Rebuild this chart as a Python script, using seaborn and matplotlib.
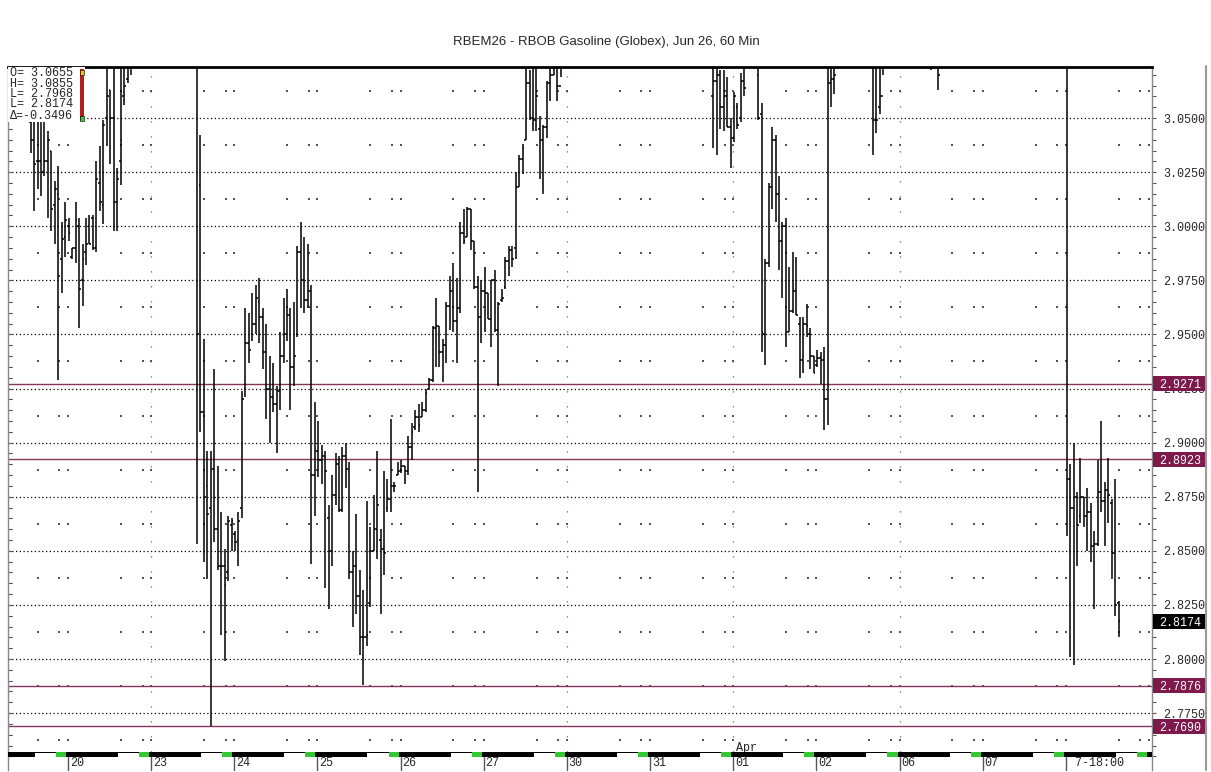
import matplotlib
matplotlib.use('Agg')
import matplotlib.pyplot as plt
from matplotlib.patches import Rectangle
from matplotlib.lines import Line2D
import numpy as np
import pandas as pd
import seaborn as sns

sns.set_style('white')
plt.rcParams['font.family'] = ['Liberation Sans', 'DejaVu Sans']
MONO = ['Liberation Mono', 'DejaVu Sans Mono']

# hourly slots, 24 per session; slot 0 = start of the "20" session
bar_slot = (list(range(-11, 19)) + list(range(37, 143)) + list(range(186, 196))
            + list(range(199, 222)) + list(range(232, 236)) + [249, 251]
            + list(range(288, 304)))

bar_open = [
    3.048, 3.040, 3.030, 3.030, 3.025, 3.030, 3.035, 3.010, 3.015, 2.985,
    2.995, 3.000, 2.986, 2.990, 3.000, 2.975, 2.988, 3.000, 3.004, 2.990,
    3.020, 3.010, 3.050, 3.063, 3.050, 3.011, 3.030, 3.060, 3.068, 3.075,
    # 23 - 27
    3.085, 3.019, 2.914, 2.880, 2.870, 2.888, 2.860, 2.843, 2.843, 2.840,
    2.862, 2.858, 2.855, 2.870, 2.925, 2.946, 2.950, 2.955, 2.965, 2.958,
    2.942, 2.925, 2.921, 2.918, 2.924, 2.940, 2.950, 2.959, 2.935, 2.950,
    2.988, 2.975, 2.966, 2.970, 2.885, 2.896, 2.892, 2.894, 2.865, 2.850,
    2.876, 2.890, 2.869, 2.894, 2.888, 2.840, 2.843, 2.829, 2.810, 2.810,
    2.826, 2.850, 2.860, 2.855, 2.851, 2.870, 2.874, 2.880, 2.885, 2.887,
    2.889, 2.887, 2.898, 2.907, 2.912, 2.912, 2.915, 2.925, 2.929, 2.953,
    2.954, 2.942, 2.945, 2.963, 2.970, 2.956, 2.962, 2.997, 2.995, 3.008,
    2.993, 2.972, 2.958, 2.970, 2.969, 2.957, 2.975, 2.952, 2.966, 2.972,
    2.984, 2.989, 2.990, 3.018, 3.031, 3.040, 3.066, 3.050, 3.049, 3.045,
    3.040, 3.046, 3.066, 3.070, 3.075, 3.065,
    # 31 - 02
    3.060, 3.067, 3.070, 3.055, 3.060, 3.046, 3.041, 3.055, 3.050, 3.067,
    3.070, 3.052, 2.950, 2.983, 3.018, 3.040, 3.015, 2.993, 3.000, 2.951,
    2.961, 2.970, 2.955, 2.938, 2.955, 2.950, 2.940, 2.936, 2.939, 2.938,
    2.920, 3.066, 3.068,
    3.075, 3.049, 3.055, 3.060, 3.080, 3.078,
    # 7-18:00
    3.075, 2.883, 2.870, 2.875, 2.866, 2.875, 2.866, 2.868, 2.852, 2.853,
    2.877, 2.873, 2.878, 2.872, 2.849, 2.826,
]
bar_high = [
    3.058, 3.055, 3.052, 3.050, 3.050, 3.044, 3.035, 3.021, 3.028, 3.002,
    3.011, 3.004, 2.990, 3.011, 3.004, 2.992, 3.004, 3.005, 3.005, 3.030,
    3.037, 3.049, 3.080, 3.063, 3.078, 3.027, 3.078, 3.080, 3.082, 3.085,
    3.092, 3.042, 2.948, 2.896, 2.896, 2.934, 2.889, 2.868, 2.851, 2.866,
    2.865, 2.859, 2.868, 2.924, 2.962, 2.960, 2.969, 2.973, 2.976, 2.962,
    2.955, 2.940, 2.937, 2.926, 2.951, 2.967, 2.971, 2.962, 2.965, 2.991,
    3.002, 2.995, 2.992, 2.973, 2.919, 2.910, 2.899, 2.896, 2.871, 2.885,
    2.895, 2.894, 2.898, 2.900, 2.891, 2.850, 2.867, 2.841, 2.832, 2.873,
    2.861, 2.876, 2.896, 2.860, 2.887, 2.883, 2.911, 2.882, 2.891, 2.892,
    2.889, 2.903, 2.909, 2.915, 2.918, 2.919, 2.925, 2.930, 2.954, 2.967,
    2.954, 2.948, 2.965, 2.977, 2.983, 2.976, 3.002, 3.008, 3.009, 3.008,
    2.993, 2.977, 2.975, 2.981, 2.969, 2.975, 2.980, 2.965, 2.971, 2.986,
    2.991, 2.991, 3.025, 3.033, 3.038, 3.073, 3.072, 3.076, 3.078, 3.051,
    3.047, 3.067, 3.073, 3.080, 3.080, 3.082,
    3.076, 3.078, 3.072, 3.072, 3.069, 3.050, 3.062, 3.057, 3.071, 3.076,
    3.080, 3.057, 2.985, 3.020, 3.046, 3.042, 3.023, 3.002, 3.004, 2.981,
    2.988, 2.986, 2.958, 2.958, 2.964, 2.953, 2.940, 2.943, 2.942, 2.944,
    3.085, 3.080, 3.080,
    3.080, 3.080, 3.080, 3.080, 3.085, 3.085,
    3.085, 2.890, 2.900, 2.877, 2.893, 2.875, 2.879, 2.872, 2.859, 2.892,
    2.910, 2.882, 2.893, 2.874, 2.883, 2.827,
]
bar_low = [
    3.034, 3.007, 3.017, 3.014, 3.023, 3.004, 2.998, 2.992, 2.929, 2.969,
    2.986, 2.993, 2.985, 2.983, 2.953, 2.963, 2.982, 2.992, 2.989, 2.988,
    3.007, 3.001, 3.037, 3.029, 2.998, 2.998, 3.019, 3.056, 3.066, 3.070,
    2.853, 2.905, 2.845, 2.837, 2.769, 2.854, 2.841, 2.811, 2.799, 2.836,
    2.850, 2.850, 2.843, 2.865, 2.921, 2.937, 2.947, 2.950, 2.946, 2.934,
    2.911, 2.900, 2.914, 2.895, 2.915, 2.937, 2.947, 2.915, 2.926, 2.949,
    2.962, 2.960, 2.962, 2.844, 2.866, 2.884, 2.881, 2.833, 2.823, 2.843,
    2.871, 2.868, 2.868, 2.879, 2.837, 2.815, 2.821, 2.802, 2.788, 2.806,
    2.824, 2.850, 2.846, 2.821, 2.839, 2.868, 2.868, 2.877, 2.885, 2.886,
    2.881, 2.885, 2.892, 2.906, 2.905, 2.912, 2.914, 2.925, 2.928, 2.935,
    2.935, 2.928, 2.937, 2.952, 2.951, 2.937, 2.960, 2.992, 2.995, 2.989,
    2.971, 2.877, 2.946, 2.951, 2.957, 2.944, 2.951, 2.926, 2.965, 2.971,
    2.977, 2.981, 2.985, 3.018, 3.024, 3.040, 3.049, 3.044, 3.044, 3.022,
    3.015, 3.041, 3.058, 3.070, 3.058, 3.069,
    3.036, 3.033, 3.045, 3.044, 3.046, 3.027, 3.039, 3.045, 3.048, 3.060,
    3.049, 2.942, 2.936, 2.981, 3.008, 3.002, 2.980, 2.967, 2.944, 2.951,
    2.960, 2.959, 2.930, 2.932, 2.949, 2.934, 2.932, 2.935, 2.927, 2.906,
    2.908, 3.055, 3.061,
    3.033, 3.043, 3.052, 3.070, 3.072, 3.063,
    2.857, 2.801, 2.797, 2.843, 2.863, 2.861, 2.850, 2.845, 2.823, 2.852,
    2.868, 2.852, 2.863, 2.837, 2.820, 2.810,
]
bar_close = [
    3.040, 3.029, 3.030, 3.025, 3.030, 3.040, 3.008, 3.017, 2.977, 2.994,
    3.003, 2.997, 2.990, 3.003, 2.971, 2.985, 2.992, 2.992, 2.990, 3.022,
    3.011, 3.047, 3.060, 3.050, 3.011, 3.022, 3.040, 3.065, 3.075, 3.078,
    2.950, 2.914, 2.875, 2.867, 2.888, 2.860, 2.843, 2.843, 2.834, 2.864,
    2.864, 2.854, 2.864, 2.920, 2.946, 2.943, 2.955, 2.967, 2.958, 2.942,
    2.925, 2.921, 2.918, 2.924, 2.940, 2.950, 2.959, 2.935, 2.940, 2.988,
    2.975, 2.966, 2.970, 2.885, 2.896, 2.892, 2.894, 2.887, 2.850, 2.876,
    2.890, 2.869, 2.894, 2.888, 2.840, 2.843, 2.829, 2.810, 2.810, 2.811,
    2.850, 2.860, 2.871, 2.851, 2.849, 2.874, 2.880, 2.880, 2.887, 2.889,
    2.887, 2.898, 2.905, 2.912, 2.908, 2.915, 2.923, 2.929, 2.953, 2.954,
    2.942, 2.945, 2.963, 2.970, 2.956, 2.962, 2.997, 2.993, 3.008, 2.993,
    2.972, 2.958, 2.970, 2.969, 2.957, 2.975, 2.952, 2.964, 2.967, 2.984,
    2.989, 2.985, 3.018, 3.031, 3.036, 3.066, 3.050, 3.049, 3.060, 3.040,
    3.046, 3.066, 3.070, 3.075, 3.065, 3.075,
    3.067, 3.070, 3.055, 3.060, 3.046, 3.041, 3.060, 3.047, 3.067, 3.064,
    3.050, 2.951, 2.983, 3.018, 3.040, 3.015, 2.993, 3.000, 2.951, 2.961,
    2.970, 2.959, 2.938, 2.955, 2.954, 2.940, 2.932, 2.939, 2.938, 2.920,
    3.066, 3.068, 3.070,
    3.049, 3.049, 3.060, 3.075, 3.078, 3.070,
    2.883, 2.870, 2.875, 2.862, 2.875, 2.866, 2.868, 2.852, 2.853, 2.877,
    2.873, 2.878, 2.876, 2.849, 2.825, 2.8174,
]

day_labels = ['20', '23', '24', '25', '26', '27', '30', '31', '01', '02', '06', '07', ' 7-18:00']
week_marks = [24, 144, 192, 240]
level_lines = [2.9271, 2.8923, 2.7876, 2.7690]
last_price = 2.8174
legend_lines = ['O= 3.0655', 'H= 3.0855', 'L= 2.7968', 'L= 2.8174', 'Δ=-0.3496']
title = 'RBEM26 - RBOB Gasoline (Globex), Jun 26, 60 Min'

df = pd.DataFrame({'slot': bar_slot, 'o': bar_open, 'h': bar_high,
                   'l': bar_low, 'c': bar_close})

W, H = 1211, 772
AW, AH = 1144, 703
fig = plt.figure(figsize=(W / 100, H / 100), dpi=100)
fig.patch.set_facecolor('white')
ax = fig.add_axes([8 / W, 2 / H, AW / W, AH / H])
x0, x1 = -17.32, 312.84
y0, y1 = 2.7487, 3.0736
px = (y1 - y0) / AH

# grid
major = np.round(np.arange(2.775, 3.0501, 0.025), 4)
minor = np.round(np.arange(2.755, 3.0701, 0.005), 4)
for v in major:
    ax.axhline(v, color='black', lw=0.9, ls=(0, (1, 2)), zorder=1)
for s in week_marks:
    ax.axvline(s, ymin=18 / AH, ymax=1, color='#666', lw=0.9, ls=(0, (1, 11)), zorder=1)
dots = pd.DataFrame([(24 * k + off, v) for k in range(0, 14) for off in (-8.75, -2.5, 0)
                     for v in np.arange(2.7625, 3.07, 0.025)], columns=['x', 'y'])
sns.scatterplot(data=dots, x='x', y='y', s=1.3, marker='s', color='#555',
                linewidth=0, legend=False, ax=ax, zorder=1)

# OHLC bars
bx = df.slot + 0.2
ax.vlines(bx, df.l, df.h, color='black', lw=1.1, zorder=3)
ax.hlines(df.o, bx - 0.5, bx, color='black', lw=1.1, zorder=3)
ax.hlines(df.c, bx, bx + 0.5, color='black', lw=1.1, zorder=3)

# level lines and right-side boxes
maroon = '#7d1a4b'
ty = ax.get_yaxis_transform()
for v in level_lines:
    ax.axhline(v, color='#86345c', lw=1, zorder=2)
for v, fc in [(v, maroon) for v in level_lines] + [(last_price, 'black')]:
    ax.add_patch(Rectangle((1 + 1 / AW, v - 7.5 * px), 52 / AW, 15 * px, transform=ty,
                           fc=fc, lw=0, clip_on=False, zorder=6))
    ax.text((1180 - 8) / AW, v, f'{v:.4f}', transform=ty, ha='center', va='center_baseline',
            color='white', fontsize=8.4, family=MONO, zorder=7, clip_on=False)

# session strip at the bottom
tx = ax.get_xaxis_transform()
sy, sh = 13 / AH, 5 / AH
ax.add_patch(Rectangle((x0, sy), x1 - x0, sh, transform=tx, fc='black', lw=0, zorder=4))
for k in range(-1, 13):
    ax.add_patch(Rectangle((24 * k + 14.4, sy), 6.1, sh - 1 / AH, transform=tx,
                           fc='white', lw=0, zorder=4))
    ax.add_patch(Rectangle((24 * k + 20.5, sy), 2.9, sh, transform=tx,
                           fc='#34c934', lw=0, zorder=4))

for k, lab in enumerate(day_labels):
    s = 24 * k
    ax.plot([s, s], [0, 13 / AH], transform=tx, color='#555', lw=1, clip_on=False)
    ax.text(s + 0.5, 7 / AH, lab, transform=tx, ha='left', va='center',
            fontsize=8.5, family=MONO)
ax.text(192.8, 22.5 / AH, 'Apr', transform=tx, ha='left', va='center',
        fontsize=8.5, family=MONO)

# axes, ticks
ax.set_xlim(x0, x1)
ax.set_ylim(y0, y1)
ax.set_xlabel('')
ax.set_ylabel('')
ax.set_xticks([])
ax.yaxis.tick_right()
ax.set_yticks(major)
ax.set_yticklabels([f'{v:.4f}' for v in major], family=MONO, fontsize=8.5)
ax.set_yticks(minor, minor=True)
ax.tick_params(axis='y', which='both', direction='out', length=3, width=0.8,
               color='#555', pad=5, right=True, left=False)
for v in minor:
    ax.plot([0, 4 / AW], [v, v], transform=ty, color='#555', lw=0.8)
for side in ['left', 'right']:
    ax.spines[side].set_color('#888')
    ax.spines[side].set_linewidth(1)
ax.spines['top'].set_color('black')
ax.spines['top'].set_linewidth(2)
ax.spines['bottom'].set_visible(False)

# legend box (top-left)
ax.add_patch(Rectangle((0, 1 - 55 / AH), 77 / AW, 55 / AH, transform=ax.transAxes,
                       fc='white', lw=0, zorder=5))
for t, yp in zip(legend_lines, [73, 84, 94, 104, 116]):
    ax.text(1.5 / AW, (770 - yp) / AH, t, transform=ax.transAxes, ha='left',
            va='center', fontsize=8.5, family=MONO, zorder=6)
ax.add_patch(Rectangle(((80 - 8) / AW, (770 - 121) / AH), 4 / AW, 52 / AH,
                       transform=ax.transAxes, fc='#b51d1d', lw=0, zorder=6))
ax.add_patch(Rectangle(((80 - 8) / AW, (770 - 75) / AH), 4 / AW, 5 / AH,
                       transform=ax.transAxes, fc='#f2c200', ec='black', lw=0.4, zorder=7))
ax.add_patch(Rectangle(((80 - 8) / AW, (770 - 121) / AH), 4 / AW, 5 / AH,
                       transform=ax.transAxes, fc='#2ecc40', ec='black', lw=0.4, zorder=7))

fig.add_artist(Line2D([1206 / W, 1206 / W], [2 / H, 1 - 66 / H], color='#999', lw=1.5))
fig.text(606 / W, 1 - 42 / H, title, ha='center', va='center', fontsize=9.5)

fig.savefig('out.png', dpi=100, facecolor='white')
